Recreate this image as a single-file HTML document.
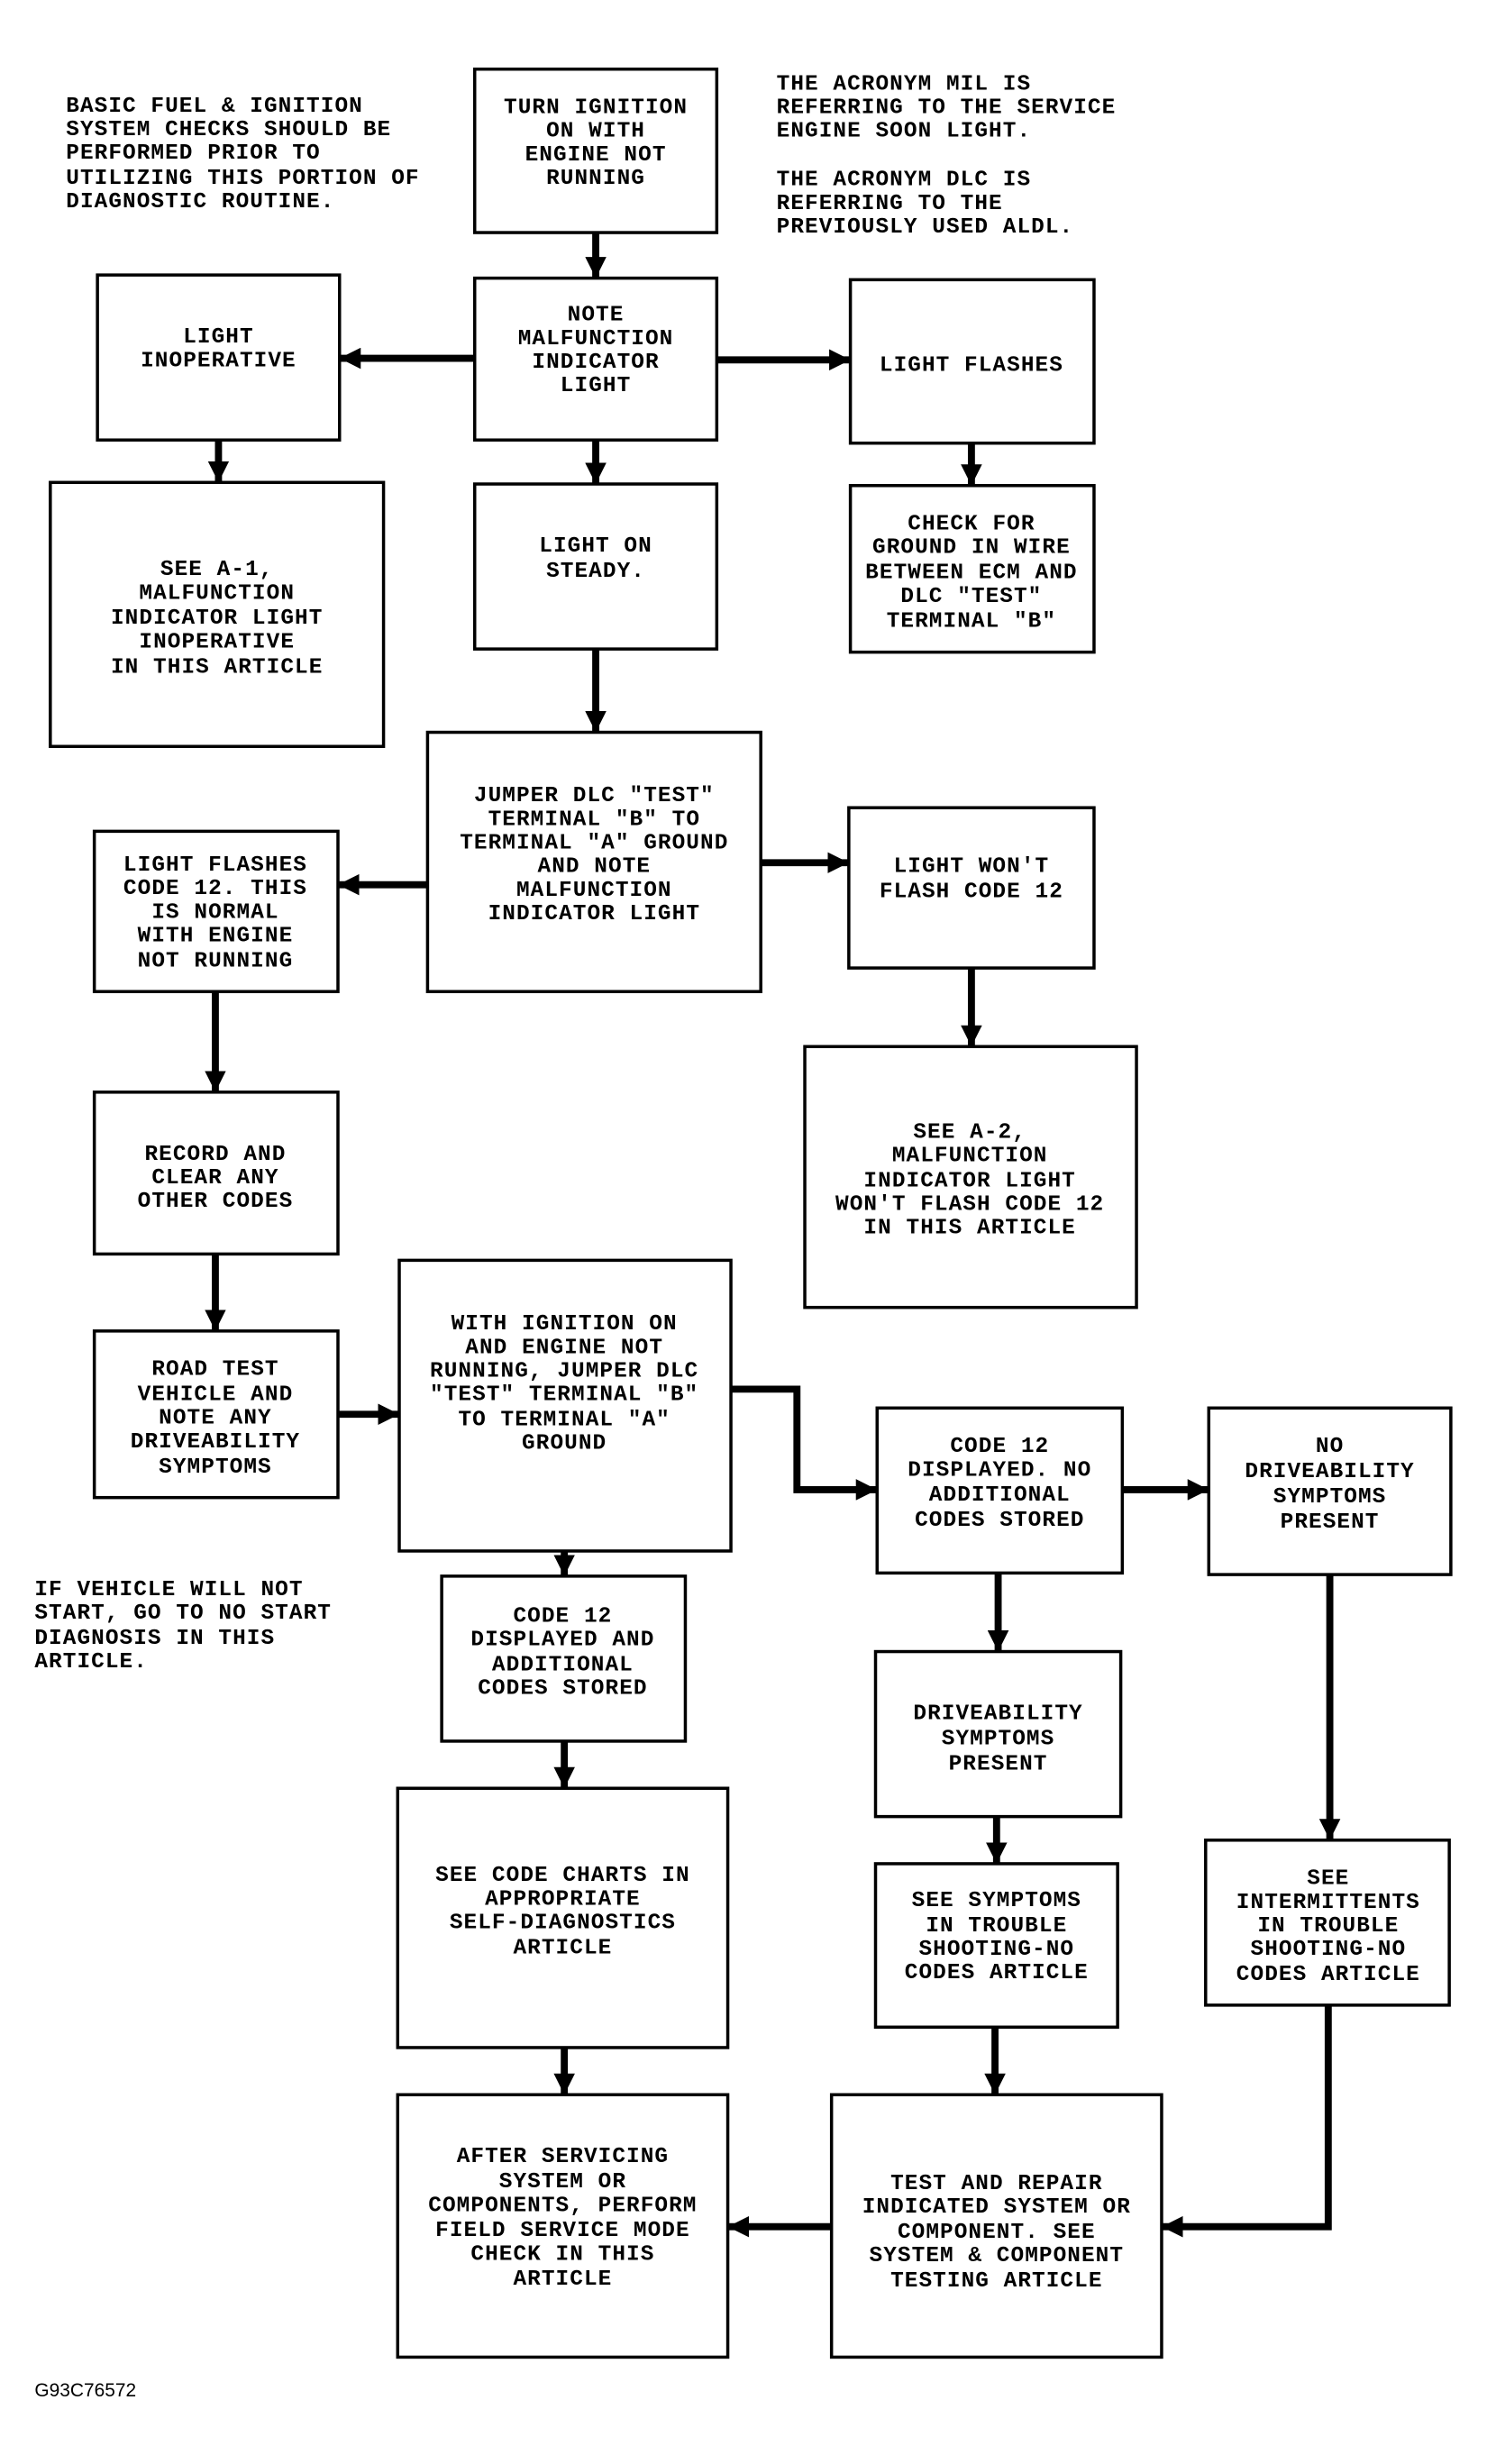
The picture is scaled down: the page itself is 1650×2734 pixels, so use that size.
<!DOCTYPE html>
<html><head><meta charset="utf-8"><style>
html,body{margin:0;padding:0;background:#fff}
svg{display:block}
text{font-family:"Liberation Mono",monospace;font-weight:bold;font-size:14px;fill:#000;letter-spacing:0.6px}
.c{text-anchor:middle}
rect{fill:#fff;stroke:#000;stroke-width:2}
.l{stroke:#000;stroke-width:4.5;fill:none}
</style></head><body>
<svg width="1650" height="2734" viewBox="0 0 946 1568" preserveAspectRatio="none" xmlns="http://www.w3.org/2000/svg">
<defs><marker id="a" viewBox="0 0 10 10" refX="10" refY="5" markerWidth="3" markerHeight="3" orient="auto" markerUnits="strokeWidth"><path d="M0,0L10,5L0,10z" fill="#000"/></marker></defs>

<!-- connectors -->
<g class="l" marker-end="url(#a)">
<path d="M379,148V177"/>
<path d="M302,228H216"/>
<path d="M456,229H541"/>
<path d="M139,280V307"/>
<path d="M379,280V308"/>
<path d="M618,282V309"/>
<path d="M379,413V466"/>
<path d="M272,563H215"/>
<path d="M484,549H540"/>
<path d="M618,616V666"/>
<path d="M137,631V695"/>
<path d="M137,798V847"/>
<path d="M215,900H254"/>
<path d="M465,884H507V948H558"/>
<path d="M714,948H769"/>
<path d="M359,987V1003"/>
<path d="M635,1001V1051"/>
<path d="M846,1002V1171"/>
<path d="M359,1108V1138"/>
<path d="M634,1156V1186"/>
<path d="M359,1303V1333"/>
<path d="M633,1290V1333"/>
<path d="M845,1276V1417H739"/>
<path d="M529,1417H463"/>
</g>

<!-- boxes -->
<rect x="302" y="44" width="154" height="104"/>
<rect x="302" y="177" width="154" height="103"/>
<rect x="62" y="175" width="154" height="105"/>
<rect x="541" y="178" width="155" height="104"/>
<rect x="32" y="307" width="212" height="168"/>
<rect x="302" y="308" width="154" height="105"/>
<rect x="541" y="309" width="155" height="106"/>
<rect x="272" y="466" width="212" height="165"/>
<rect x="60" y="529" width="155" height="102"/>
<rect x="540" y="514" width="156" height="102"/>
<rect x="512" y="666" width="211" height="166"/>
<rect x="60" y="695" width="155" height="103"/>
<rect x="60" y="847" width="155" height="106"/>
<rect x="254" y="802" width="211" height="185"/>
<rect x="558" y="896" width="156" height="105"/>
<rect x="769" y="896" width="154" height="106"/>
<rect x="281" y="1003" width="155" height="105"/>
<rect x="557" y="1051" width="156" height="105"/>
<rect x="253" y="1138" width="210" height="165"/>
<rect x="557" y="1186" width="154" height="104"/>
<rect x="767" y="1171" width="155" height="105"/>
<rect x="253" y="1333" width="210" height="167"/>
<rect x="529" y="1333" width="210" height="167"/>

<!-- box text -->
<g class="c">
<text x="379" y="72">TURN IGNITION</text><text x="379" y="87">ON WITH</text><text x="379" y="102">ENGINE NOT</text><text x="379" y="117">RUNNING</text>
<text x="379" y="204">NOTE</text><text x="379" y="219">MALFUNCTION</text><text x="379" y="234">INDICATOR</text><text x="379" y="249">LIGHT</text>
<text x="139" y="218">LIGHT</text><text x="139" y="233">INOPERATIVE</text>
<text x="618" y="236">LIGHT FLASHES</text>
<text x="138" y="366">SEE A-1,</text><text x="138" y="381">MALFUNCTION</text><text x="138" y="397">INDICATOR LIGHT</text><text x="138" y="412">INOPERATIVE</text><text x="138" y="428">IN THIS ARTICLE</text>
<text x="379" y="351">LIGHT ON</text><text x="379" y="367">STEADY.</text>
<text x="618" y="337">CHECK FOR</text><text x="618" y="352">GROUND IN WIRE</text><text x="618" y="368">BETWEEN ECM AND</text><text x="618" y="383">DLC "TEST"</text><text x="618" y="399">TERMINAL "B"</text>
<text x="378" y="510">JUMPER DLC "TEST"</text><text x="378" y="525">TERMINAL "B" TO</text><text x="378" y="540">TERMINAL "A" GROUND</text><text x="378" y="555">AND NOTE</text><text x="378" y="570">MALFUNCTION</text><text x="378" y="585">INDICATOR LIGHT</text>
<text x="137" y="554">LIGHT FLASHES</text><text x="137" y="569">CODE 12. THIS</text><text x="137" y="584">IS NORMAL</text><text x="137" y="599">WITH ENGINE</text><text x="137" y="615">NOT RUNNING</text>
<text x="618" y="555">LIGHT WON'T</text><text x="618" y="571">FLASH CODE 12</text>
<text x="617" y="724">SEE A-2,</text><text x="617" y="739">MALFUNCTION</text><text x="617" y="755">INDICATOR LIGHT</text><text x="617" y="770">WON'T FLASH CODE 12</text><text x="617" y="785">IN THIS ARTICLE</text>
<text x="137" y="738">RECORD AND</text><text x="137" y="753">CLEAR ANY</text><text x="137" y="768">OTHER CODES</text>
<text x="137" y="875">ROAD TEST</text><text x="137" y="891">VEHICLE AND</text><text x="137" y="906">NOTE ANY</text><text x="137" y="921">DRIVEABILITY</text><text x="137" y="937">SYMPTOMS</text>
<text x="359" y="846">WITH IGNITION ON</text><text x="359" y="861">AND ENGINE NOT</text><text x="359" y="876">RUNNING, JUMPER DLC</text><text x="359" y="891">"TEST" TERMINAL "B"</text><text x="359" y="907">TO TERMINAL "A"</text><text x="359" y="922">GROUND</text>
<text x="636" y="924">CODE 12</text><text x="636" y="939">DISPLAYED. NO</text><text x="636" y="955">ADDITIONAL</text><text x="636" y="971">CODES STORED</text>
<text x="846" y="924">NO</text><text x="846" y="940">DRIVEABILITY</text><text x="846" y="956">SYMPTOMS</text><text x="846" y="972">PRESENT</text>
<text x="358" y="1032">CODE 12</text><text x="358" y="1047">DISPLAYED AND</text><text x="358" y="1063">ADDITIONAL</text><text x="358" y="1078">CODES STORED</text>
<text x="635" y="1094">DRIVEABILITY</text><text x="635" y="1110">SYMPTOMS</text><text x="635" y="1126">PRESENT</text>
<text x="358" y="1197">SEE CODE CHARTS IN</text><text x="358" y="1212">APPROPRIATE</text><text x="358" y="1227">SELF-DIAGNOSTICS</text><text x="358" y="1243">ARTICLE</text>
<text x="634" y="1213">SEE SYMPTOMS</text><text x="634" y="1229">IN TROUBLE</text><text x="634" y="1244">SHOOTING-NO</text><text x="634" y="1259">CODES ARTICLE</text>
<text x="845" y="1199">SEE</text><text x="845" y="1214">INTERMITTENTS</text><text x="845" y="1229">IN TROUBLE</text><text x="845" y="1244">SHOOTING-NO</text><text x="845" y="1260">CODES ARTICLE</text>
<text x="358" y="1376">AFTER SERVICING</text><text x="358" y="1392">SYSTEM OR</text><text x="358" y="1407">COMPONENTS, PERFORM</text><text x="358" y="1423">FIELD SERVICE MODE</text><text x="358" y="1438">CHECK IN THIS</text><text x="358" y="1454">ARTICLE</text>
<text x="634" y="1393">TEST AND REPAIR</text><text x="634" y="1408">INDICATED SYSTEM OR</text><text x="634" y="1424">COMPONENT. SEE</text><text x="634" y="1439">SYSTEM &amp; COMPONENT</text><text x="634" y="1455">TESTING ARTICLE</text>
</g>

<!-- free text -->
<text x="42" y="71">BASIC FUEL &amp; IGNITION</text><text x="42" y="86">SYSTEM CHECKS SHOULD BE</text><text x="42" y="101">PERFORMED PRIOR TO</text><text x="42" y="117">UTILIZING THIS PORTION OF</text><text x="42" y="132">DIAGNOSTIC ROUTINE.</text>
<text x="494" y="57">THE ACRONYM MIL IS</text><text x="494" y="72">REFERRING TO THE SERVICE</text><text x="494" y="87">ENGINE SOON LIGHT.</text>
<text x="494" y="118">THE ACRONYM DLC IS</text><text x="494" y="133">REFERRING TO THE</text><text x="494" y="148">PREVIOUSLY USED ALDL.</text>
<text x="22" y="1015">IF VEHICLE WILL NOT</text><text x="22" y="1030">START, GO TO NO START</text><text x="22" y="1046">DIAGNOSIS IN THIS</text><text x="22" y="1061">ARTICLE.</text>
<text x="22" y="1525" style="font-family:'Liberation Sans',sans-serif;font-weight:normal;font-size:12px;letter-spacing:0">G93C76572</text>
</svg>
</body></html>
